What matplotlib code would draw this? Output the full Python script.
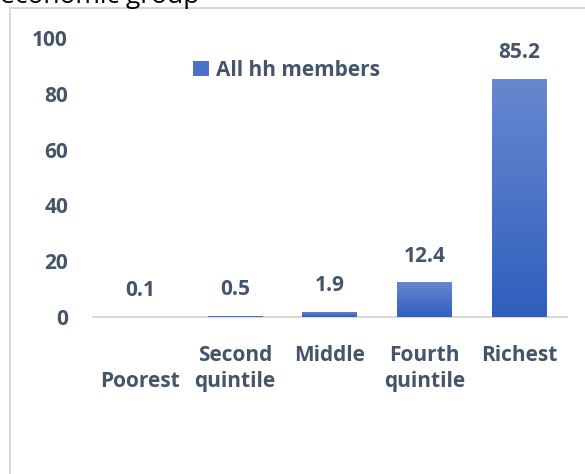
import numpy as np
import matplotlib
matplotlib.use("Agg")
import matplotlib.pyplot as plt
from matplotlib.colors import LinearSegmentedColormap
from matplotlib.lines import Line2D
from matplotlib.patches import Patch

# Share of household members by wealth quintile
categories = ["\nPoorest", "Second\nquintile", "Middle", "Fourth\nquintile", "Richest"]
values = [0.1, 0.5, 1.9, 12.4, 85.2]
series_name = "All hh members"
y_ticks = [0, 20, 40, 60, 80, 100]

TEXT = "#44546A"
GRID = "#D9D9D9"
TOP_BLUE = "#6888D0"
BOTTOM_BLUE = "#2F5FBD"

plt.rcParams["font.family"] = ["Open Sans", "DejaVu Sans"]
plt.rcParams["font.weight"] = "bold"

fig = plt.figure(figsize=(5.85, 4.74), dpi=100)
ax = fig.add_axes([0.159, 0.331, 0.81, 0.589])

x = np.arange(len(categories))
bars = ax.bar(x, values, width=0.58, color="#4470C8", edgecolor="none",
              linewidth=0, zorder=3)

# vertical gradient inside each bar
grad = LinearSegmentedColormap.from_list("bar_grad", [BOTTOM_BLUE, TOP_BLUE])
ramp = np.linspace(0, 1, 256).reshape(-1, 1)
for b in bars:
    x0, w, h = b.get_x(), b.get_width(), b.get_height()
    if h < 1:
        continue
    im = ax.imshow(ramp, cmap=grad, origin="lower", aspect="auto",
                   extent=(x0, x0 + w, 0, h), zorder=3)
    im.set_clip_path(b)

for xi, v in zip(x, values):
    ax.annotate(f"{v:.1f}", (xi, v), xytext=(0, 19), textcoords="offset points",
                ha="center", va="center", fontsize=15, fontweight="bold", color=TEXT)

ax.set_xlim(-0.5, len(categories) - 0.5)
ax.set_ylim(0, 100)
ax.set_yticks(y_ticks)
ax.set_xticks(x)
ax.set_xticklabels(categories, linespacing=1.35, fontweight="bold")
ax.tick_params(axis="y", length=0, pad=18, labelsize=15, labelcolor=TEXT)
ax.tick_params(axis="x", length=0, pad=20, labelsize=15, labelcolor=TEXT)
for lbl in ax.get_yticklabels():
    lbl.set_fontweight("bold")

for side in ["top", "right", "left"]:
    ax.spines[side].set_visible(False)
ax.spines["bottom"].set_color(GRID)
ax.spines["bottom"].set_linewidth(1.5)
ax.spines["bottom"].set_zorder(1)

ax.legend(handles=[Patch(facecolor="#4A72C8", label=series_name)],
          loc="center left", bbox_to_anchor=(183 / 585, 1 - 70 / 474),
          bbox_transform=fig.transFigure, frameon=False,
          prop={"size": 15, "weight": "bold"},
          labelcolor=TEXT, handlelength=0.75, handleheight=0.75,
          handletextpad=0.35, borderpad=0)

# chart frame (runs past the right and bottom edges)
W, H = 585, 474
fig.add_artist(Line2D([10 / W, 10 / W], [0, 1 - 8 / H], color=GRID, lw=1.5))
fig.add_artist(Line2D([10 / W, 1], [1 - 8 / H, 1 - 8 / H], color=GRID, lw=1.5))

# heading above the frame, mostly cut off
fig.text(0.0, 1 - 3 / H, "economic group", ha="left", va="baseline",
         fontsize=19, fontweight="normal", color="black")

fig.savefig("out.png", dpi=100)
